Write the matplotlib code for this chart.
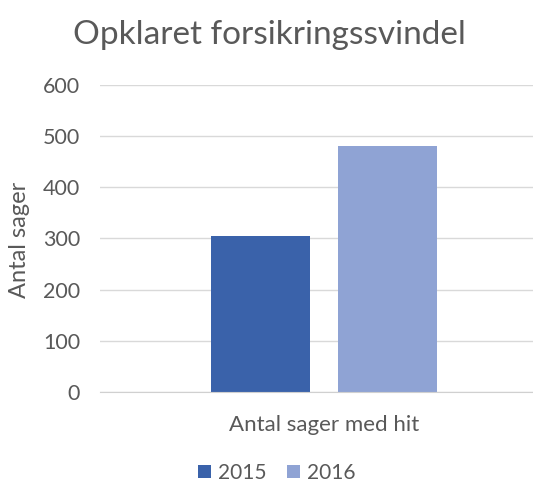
import matplotlib.pyplot as plt

years = ['2015', '2016']
values = [305, 480]
category = 'Antal sager med hit'
colors = ['#3A62AA', '#8FA3D4']

plt.rcParams['font.family'] = ['Lato', 'DejaVu Sans']
grey = '#595959'

fig = plt.figure(figsize=(5.33, 4.84), dpi=100)
ax = fig.add_axes([100 / 533, 92 / 484, 447 / 533, 307 / 484])

width = 0.2215
offsets = [-0.1415, 0.1425]
for year, val, col, off in zip(years, values, colors, offsets):
    ax.bar(off, val, width=width, color=col, label=year, zorder=3)

ax.set_xlim(-0.5, 0.5)
ax.set_ylim(0, 600)
ax.set_yticks(range(0, 601, 100))
ax.set_xticks([])
ax.grid(axis='y', color='#D9D9D9', linewidth=1, zorder=0)
for s in ['top', 'right', 'left']:
    ax.spines[s].set_visible(False)
ax.spines['bottom'].set_color('#D0D0D0')
ax.spines['bottom'].set_zorder(4)
ax.tick_params(axis='y', length=0, pad=14.4, labelsize=15.5, labelcolor=grey)

fig.text(324 / 533, 1 - 425 / 484, category, ha='center', va='center', fontsize=16, color=grey)
fig.text(20 / 533, 1 - 240 / 484, 'Antal sager', rotation=90, ha='center', va='center',
         fontsize=17, color=grey)
fig.text(269 / 533, 1 - 35 / 484, 'Opklaret forsikringssvindel', ha='center', va='center',
         fontsize=24, color=grey)

fig.legend(loc='center', bbox_to_anchor=(277 / 533, 1 - 473 / 484), ncol=2, frameon=False,
           fontsize=15, labelcolor=grey, handlelength=0.6, handleheight=0.6,
           handletextpad=0.35, columnspacing=1.0, borderpad=0.2)

fig.savefig('out.png', dpi=100)
